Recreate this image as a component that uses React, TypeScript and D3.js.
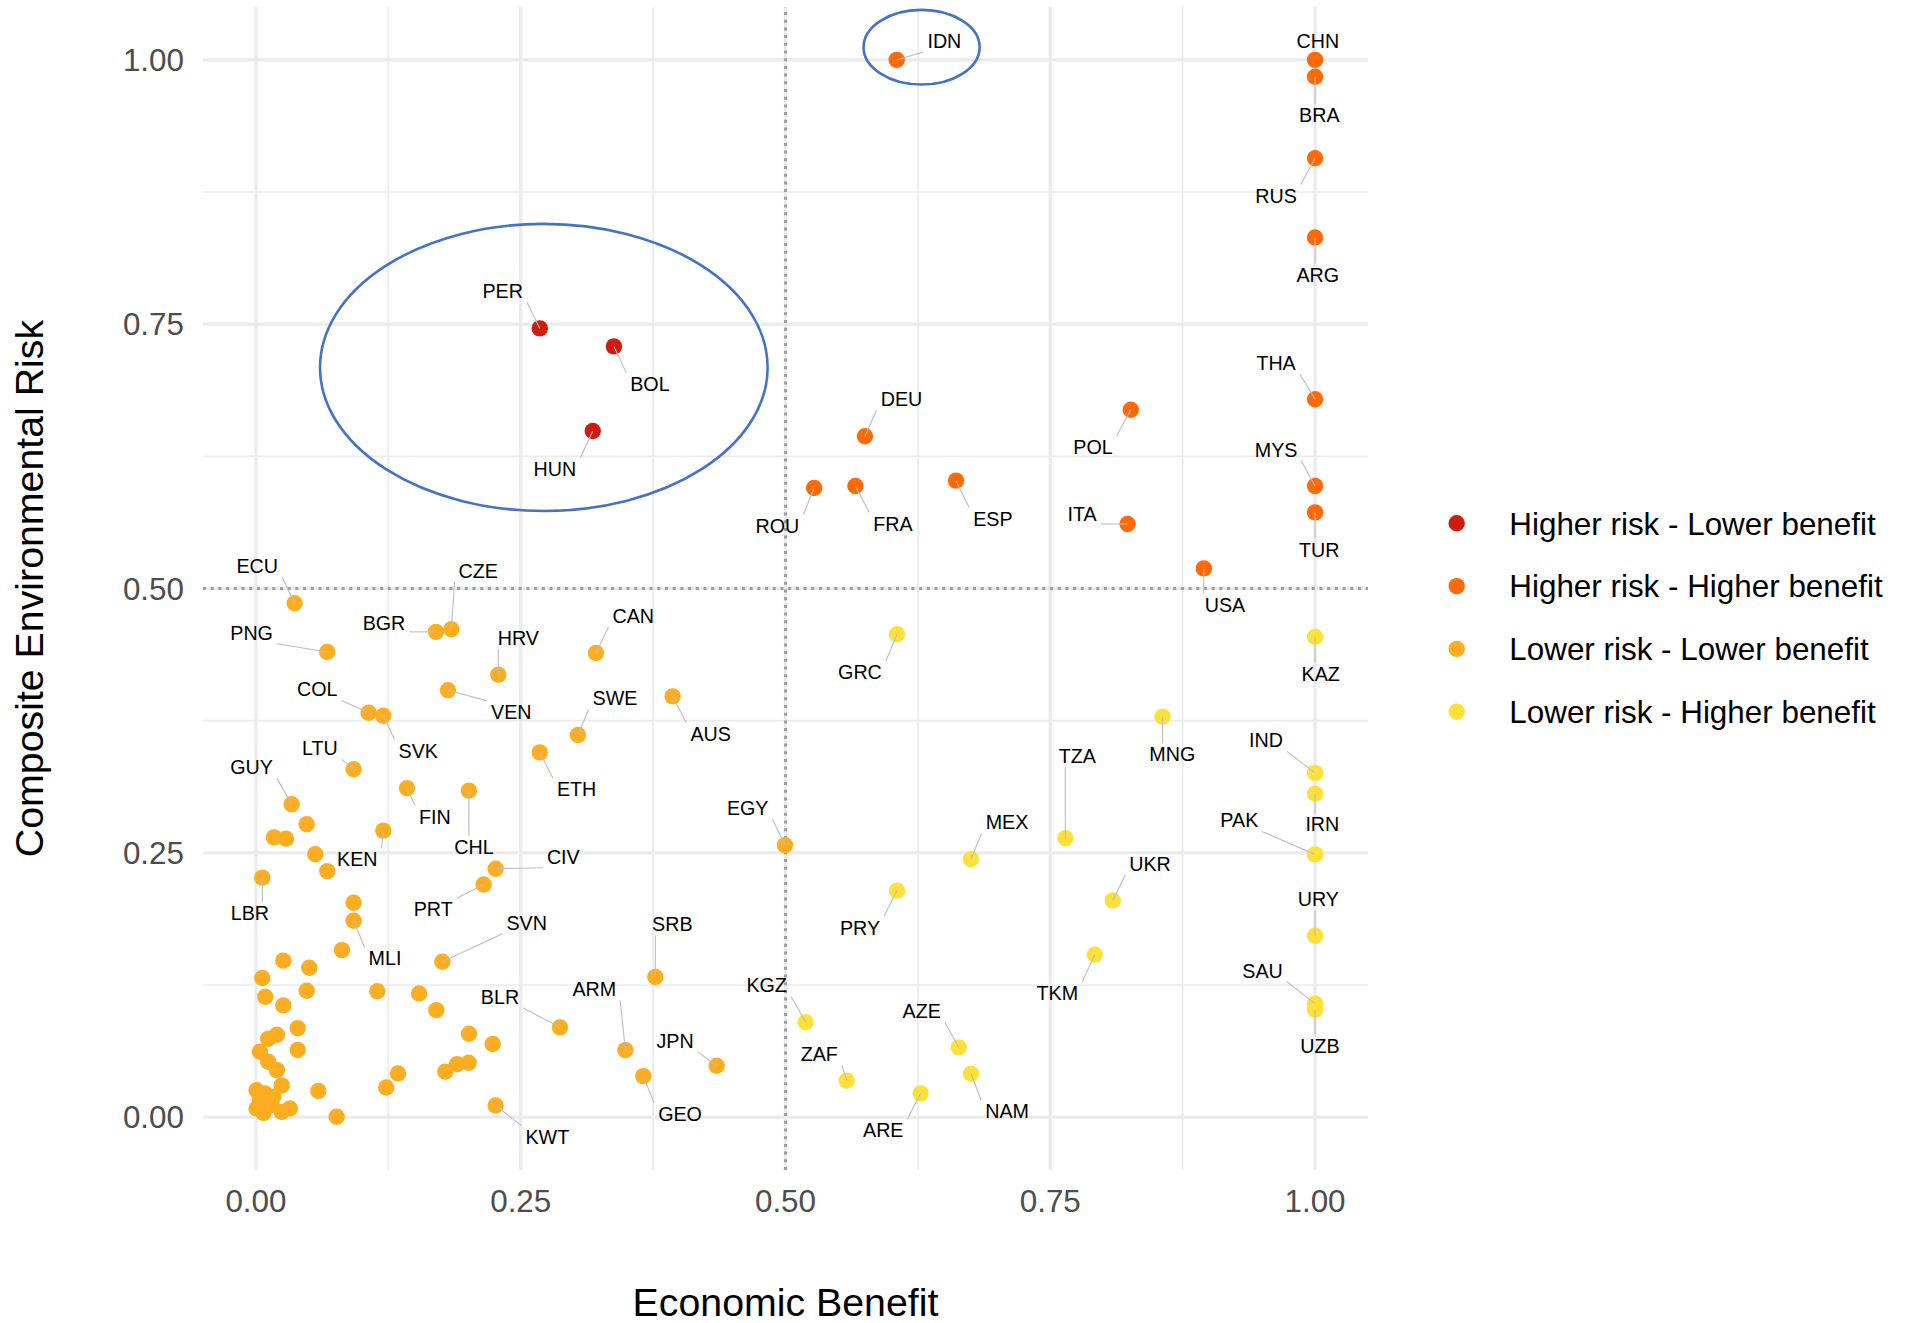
import React, { useMemo } from "react";
import * as d3 from "d3";

// ---------- DATA ----------
const groupNames = [
  "Higher risk - Lower benefit",
  "Higher risk - Higher benefit",
  "Lower risk - Lower benefit",
  "Lower risk - Higher benefit",
];
const groupColors = ["#D01B0D", "#FF6A07", "#FDAD21", "#FEE03A"];

// Higher risk - Lower benefit
const higherRiskLowerBenefit = [
  { iso: "PER", benefit: 0.268, risk: 0.746 },
  { iso: "BOL", benefit: 0.338, risk: 0.729 },
  { iso: "HUN", benefit: 0.318, risk: 0.649 },
];

// Higher risk - Higher benefit
const higherRiskHigherBenefit = [
  { iso: "IDN", benefit: 0.605, risk: 1.0 },
  { iso: "CHN", benefit: 1.0, risk: 1.0 },
  { iso: "BRA", benefit: 1.0, risk: 0.984 },
  { iso: "RUS", benefit: 1.0, risk: 0.907 },
  { iso: "ARG", benefit: 1.0, risk: 0.832 },
  { iso: "THA", benefit: 1.0, risk: 0.679 },
  { iso: "MYS", benefit: 1.0, risk: 0.597 },
  { iso: "TUR", benefit: 1.0, risk: 0.572 },
  { iso: "USA", benefit: 0.895, risk: 0.519 },
  { iso: "DEU", benefit: 0.575, risk: 0.644 },
  { iso: "ROU", benefit: 0.527, risk: 0.595 },
  { iso: "FRA", benefit: 0.566, risk: 0.597 },
  { iso: "ESP", benefit: 0.661, risk: 0.602 },
  { iso: "POL", benefit: 0.826, risk: 0.669 },
  { iso: "ITA", benefit: 0.823, risk: 0.561 },
];

// Lower risk - Lower benefit (labelled)
const lowerRiskLowerBenefit = [
  { iso: "ECU", benefit: 0.0365, risk: 0.486 },
  { iso: "PNG", benefit: 0.0673, risk: 0.44 },
  { iso: "BGR", benefit: 0.17, risk: 0.459 },
  { iso: "CZE", benefit: 0.1845, risk: 0.4614 },
  { iso: "HRV", benefit: 0.2288, risk: 0.4185 },
  { iso: "CAN", benefit: 0.321, risk: 0.439 },
  { iso: "VEN", benefit: 0.1813, risk: 0.4037 },
  { iso: "COL", benefit: 0.1064, risk: 0.3825 },
  { iso: "SVK", benefit: 0.1202, risk: 0.3797 },
  { iso: "SWE", benefit: 0.304, risk: 0.3614 },
  { iso: "AUS", benefit: 0.3934, risk: 0.398 },
  { iso: "LTU", benefit: 0.0922, risk: 0.329 },
  { iso: "ETH", benefit: 0.268, risk: 0.345 },
  { iso: "GUY", benefit: 0.0337, risk: 0.296 },
  { iso: "FIN", benefit: 0.1426, risk: 0.311 },
  { iso: "CHL", benefit: 0.2011, risk: 0.3088 },
  { iso: "KEN", benefit: 0.1202, risk: 0.271 },
  { iso: "LBR", benefit: 0.006, risk: 0.2265 },
  { iso: "CIV", benefit: 0.2263, risk: 0.235 },
  { iso: "PRT", benefit: 0.215, risk: 0.22 },
  { iso: "MLI", benefit: 0.0922, risk: 0.1858 },
  { iso: "SVN", benefit: 0.176, risk: 0.147 },
  { iso: "BLR", benefit: 0.287, risk: 0.0849 },
  { iso: "KWT", benefit: 0.2263, risk: 0.011 },
  { iso: "SRB", benefit: 0.3771, risk: 0.1325 },
  { iso: "ARM", benefit: 0.3488, risk: 0.0634 },
  { iso: "GEO", benefit: 0.3657, risk: 0.0388 },
  { iso: "JPN", benefit: 0.435, risk: 0.0486 },
  { iso: "EGY", benefit: 0.4995, risk: 0.2573 },
];

// Lower risk - Lower benefit (unlabelled) [benefit, risk]
const lowerRiskLowerBenefitOthers: [number, number][] = [
  [0.0479, 0.277], [0.017, 0.2646], [0.0283, 0.2634], [0.056, 0.2486],
  [0.0673, 0.2327], [0.0922, 0.2028], [0.0812, 0.158], [0.0258, 0.148],
  [0.0503, 0.1413], [0.006, 0.1316], [0.0479, 0.1196], [0.1146, 0.119],
  [0.154, 0.117], [0.0088, 0.1139], [0.0258, 0.1057], [0.1703, 0.1012],
  [0.0394, 0.0842], [0.0198, 0.0779], [0.0116, 0.0742], [0.2011, 0.0789],
  [0.2235, 0.0692], [0.0038, 0.0619], [0.0394, 0.0635], [0.0116, 0.0524],
  [0.0198, 0.0445], [0.2008, 0.0515], [0.1898, 0.05], [0.1788, 0.043],
  [0.1341, 0.0413], [0.123, 0.0281], [0.0243, 0.03], [0.0589, 0.0247],
  [0.0006, 0.0255], [0.0085, 0.0224], [0.0163, 0.0193], [0.0038, 0.016],
  [0.0148, 0.0114], [0.0006, 0.0082], [0.007, 0.004], [0.0243, 0.005],
  [0.032, 0.0082], [0.0762, 0.0003],
];

// Lower risk - Higher benefit
const lowerRiskHigherBenefit = [
  { iso: "GRC", benefit: 0.6053, risk: 0.4567 },
  { iso: "MEX", benefit: 0.675, risk: 0.2439 },
  { iso: "PRY", benefit: 0.6053, risk: 0.2142 },
  { iso: "KGZ", benefit: 0.519, risk: 0.0897 },
  { iso: "ZAF", benefit: 0.5578, risk: 0.0345 },
  { iso: "ARE", benefit: 0.6276, risk: 0.0225 },
  { iso: "AZE", benefit: 0.6635, risk: 0.066 },
  { iso: "NAM", benefit: 0.6752, risk: 0.041 },
  { iso: "KAZ", benefit: 1.0, risk: 0.4543 },
  { iso: "MNG", benefit: 0.856, risk: 0.3787 },
  { iso: "IND", benefit: 1.0, risk: 0.3256 },
  { iso: "IRN", benefit: 1.0, risk: 0.3058 },
  { iso: "PAK", benefit: 1.0, risk: 0.2485 },
  { iso: "TZA", benefit: 0.7642, risk: 0.2638 },
  { iso: "UKR", benefit: 0.809, risk: 0.205 },
  { iso: "URY", benefit: 1.0, risk: 0.1716 },
  { iso: "TKM", benefit: 0.792, risk: 0.1537 },
  { iso: "SAU", benefit: 1.0, risk: 0.1074 },
  { iso: "UZB", benefit: 1.0, risk: 0.1017 },
];

// Repelled label anchors (data units)
const labelAnchors: Record<string, [number, number]> = {
  ECU: [0.0012, 0.5213], PNG: [-0.0041, 0.4582], BGR: [0.1209, 0.4671],
  CZE: [0.2099, 0.5169], HRV: [0.2477, 0.4535], CAN: [0.3563, 0.474],
  VEN: [0.2411, 0.3832], COL: [0.0579, 0.4046], SVK: [0.1533, 0.3466],
  SWE: [0.339, 0.3961], LTU: [0.0604, 0.3488], ETH: [0.3028, 0.3101],
  GUY: [-0.0041, 0.3309], FIN: [0.169, 0.2842], CHL: [0.2059, 0.2552],
  KEN: [0.0957, 0.2438], LBR: [-0.0057, 0.1927], CIV: [0.2902, 0.2463],
  PRT: [0.1674, 0.1966], MLI: [0.1218, 0.1502], SVN: [0.2556, 0.1839],
  BLR: [0.2304, 0.1138], KWT: [0.2751, -0.0185], SRB: [0.3931, 0.1826],
  ARM: [0.3195, 0.1209], GEO: [0.4004, 0.0028], JPN: [0.3957, 0.0722],
  KGZ: [0.4822, 0.1249], ZAF: [0.5319, 0.0596], ARE: [0.5923, -0.0123],
  AZE: [0.6286, 0.1003], NAM: [0.7092, 0.0057], AUS: [0.4294, 0.3624],
  GRC: [0.5703, 0.421], EGY: [0.4643, 0.2921], MEX: [0.7092, 0.2791],
  PRY: [0.5703, 0.1794], PER: [0.233, 0.7815], BOL: [0.372, 0.6935],
  HUN: [0.2823, 0.6129], IDN: [0.65, 1.018], DEU: [0.6095, 0.6791],
  ROU: [0.4924, 0.5595], FRA: [0.6014, 0.5614], ESP: [0.6958, 0.5662],
  POL: [0.7903, 0.634], ITA: [0.78, 0.5703], CHN: [1.0026, 1.0183],
  BRA: [1.004, 0.9475], RUS: [0.9632, 0.8717], ARG: [1.0026, 0.7968],
  THA: [0.9632, 0.7134], MYS: [0.9632, 0.631], TUR: [1.004, 0.5368],
  USA: [0.915, 0.4844], KAZ: [1.0054, 0.4188], MNG: [0.8652, 0.3432],
  IND: [0.9537, 0.3564], IRN: [1.0069, 0.277], PAK: [0.9285, 0.2807],
  TZA: [0.7755, 0.3415], UKR: [0.8442, 0.2395], URY: [1.0031, 0.2064],
  TKM: [0.7567, 0.1174], SAU: [0.9504, 0.1385], UZB: [1.0047, 0.0675],
};

// highlight ellipses (data units)
const highlightEllipses = [
  { cx: 0.2718, cy: 0.7091, rx: 0.2113, ry: 0.1358 },
  { cx: 0.6285, cy: 1.012, rx: 0.0548, ry: 0.0353 },
];

const majorBreaks = [0, 0.25, 0.5, 0.75, 1];
const minorBreaks = [0.125, 0.375, 0.625, 0.875];
const tickLabels = ["0.00", "0.25", "0.50", "0.75", "1.00"];
const quadrantThreshold = 0.5;

// ---------- STYLE ----------
const FONT = '"Liberation Sans", Arial, Helvetica, sans-serif';
const LABEL_FS = 19.7;
const TICK_FS = 31.4;
const TITLE_FS = 39.3;
const R = 8.2;

export default function App() {
  const x = d3.scaleLinear().domain([-0.05, 1.05]).range([203, 1368]);
  const y = d3.scaleLinear().domain([-0.05, 1.05]).range([1170, 7]);
  const [x0, x1] = x.range();
  const [y0, y1] = y.range();

  const allPoints = useMemo(() => {
    const pts: { iso?: string; benefit: number; risk: number; group: number }[] = [];
    lowerRiskLowerBenefitOthers.forEach(([b, r]) => pts.push({ benefit: b, risk: r, group: 2 }));
    lowerRiskLowerBenefit.forEach((d) => pts.push({ ...d, group: 2 }));
    lowerRiskHigherBenefit.forEach((d) => pts.push({ ...d, group: 3 }));
    higherRiskHigherBenefit.forEach((d) => pts.push({ ...d, group: 1 }));
    higherRiskLowerBenefit.forEach((d) => pts.push({ ...d, group: 0 }));
    return pts;
  }, []);

  const measure = useMemo(() => {
    const c = document.createElement("canvas").getContext("2d")!;
    c.font = `${LABEL_FS}px ${FONT}`;
    return (t: string) => c.measureText(t).width;
  }, []);

  const labels = allPoints
    .filter((p) => p.iso && labelAnchors[p.iso])
    .map((p) => {
      const [lb, lr] = labelAnchors[p.iso!];
      const lx = x(lb);
      const ly = y(lr);
      const px = x(p.benefit);
      const py = y(p.risk);
      const w = measure(p.iso!);
      const pad = 4;
      const left = lx - w / 2 - pad;
      const right = lx + w / 2 + pad;
      const top = ly - LABEL_FS * 0.36 - pad;
      const bottom = ly + LABEL_FS * 0.36 + pad;
      const nx = Math.max(left, Math.min(right, px));
      const ny = Math.max(top, Math.min(bottom, py));
      const dist = Math.hypot(px - nx, py - ny);
      return { iso: p.iso!, lx, ly, px, py, nx, ny, dist };
    });

  return (
    <div>
      <style>{"body{margin:0;background:#fff}"}</style>
      <svg width={1921} height={1323} style={{ display: "block", fontFamily: FONT }}>
        <rect width={1921} height={1323} fill="#fff" />
        {/* grid */}
        {minorBreaks.map((b) => (
          <g key={"mn" + b}>
            <line x1={x(b)} x2={x(b)} y1={y0} y2={y1} stroke="#EBEBEB" strokeWidth={1.7} />
            <line x1={x0} x2={x1} y1={y(b)} y2={y(b)} stroke="#EBEBEB" strokeWidth={1.7} />
          </g>
        ))}
        {majorBreaks.map((b) => (
          <g key={"mj" + b}>
            <line x1={x(b)} x2={x(b)} y1={y0} y2={y1} stroke="#EBEBEB" strokeWidth={3.3} />
            <line x1={x0} x2={x1} y1={y(b)} y2={y(b)} stroke="#EBEBEB" strokeWidth={3.3} />
          </g>
        ))}
        {/* quadrant dotted lines */}
        <line x1={x(quadrantThreshold)} x2={x(quadrantThreshold)} y1={y0} y2={y1}
          stroke="#9E9E9E" strokeWidth={3.1} strokeDasharray="3 4.7" />
        <line x1={x0} x2={x1} y1={y(quadrantThreshold)} y2={y(quadrantThreshold)}
          stroke="#9E9E9E" strokeWidth={3.1} strokeDasharray="3 4.7" />

        {/* axis tick labels */}
        {majorBreaks.map((b, i) => (
          <text key={"yt" + b} x={184} y={y(b)} dy="0.36em" textAnchor="end"
            fontSize={TICK_FS} fill="#4D4D4D">{tickLabels[i]}</text>
        ))}
        {majorBreaks.map((b, i) => (
          <text key={"xt" + b} x={x(b)} y={1211.5} textAnchor="middle"
            fontSize={TICK_FS} fill="#4D4D4D">{tickLabels[i]}</text>
        ))}
        {/* axis titles */}
        <text x={(x0 + x1) / 2} y={1316} textAnchor="middle" fontSize={TITLE_FS} fill="#000">
          Economic Benefit
        </text>
        <text transform={`translate(43,${(y0 + y1) / 2}) rotate(-90)`} textAnchor="middle"
          fontSize={TITLE_FS} fill="#000">
          Composite Environmental Risk
        </text>

        {/* ellipses */}
        {highlightEllipses.map((e, i) => (
          <ellipse key={"el" + i} cx={x(e.cx)} cy={y(e.cy)}
            rx={x(e.rx) - x(0)} ry={y(0) - y(e.ry)}
            fill="none" stroke="#4472C4" strokeWidth={2.6} />
        ))}

        {/* points */}
        {allPoints.map((p, i) => (
          <circle key={"p" + i} cx={x(p.benefit)} cy={y(p.risk)} r={R}
            fill={groupColors[p.group]} />
        ))}

        {/* label segments */}
        {labels.filter((l) => l.dist > 11).map((l) => (
          <line key={"s" + l.iso} x1={l.px} y1={l.py} x2={l.nx} y2={l.ny}
            stroke="#BDBDBD" strokeWidth={1.1} />
        ))}
        {/* labels */}
        {labels.map((l) => (
          <text key={"t" + l.iso} x={l.lx} y={l.ly} dy="0.36em" textAnchor="middle"
            fontSize={LABEL_FS} fill="#000">{l.iso}</text>
        ))}

        {/* legend */}
        {groupNames.map((g, i) => {
          const ly = 523.3 + i * 62.8;
          return (
            <g key={"lg" + i}>
              <circle cx={1456.7} cy={ly} r={R} fill={groupColors[i]} />
              <text x={1509.3} y={ly} dy="0.36em" fontSize={TICK_FS} fill="#000">{g}</text>
            </g>
          );
        })}
      </svg>
    </div>
  );
}
